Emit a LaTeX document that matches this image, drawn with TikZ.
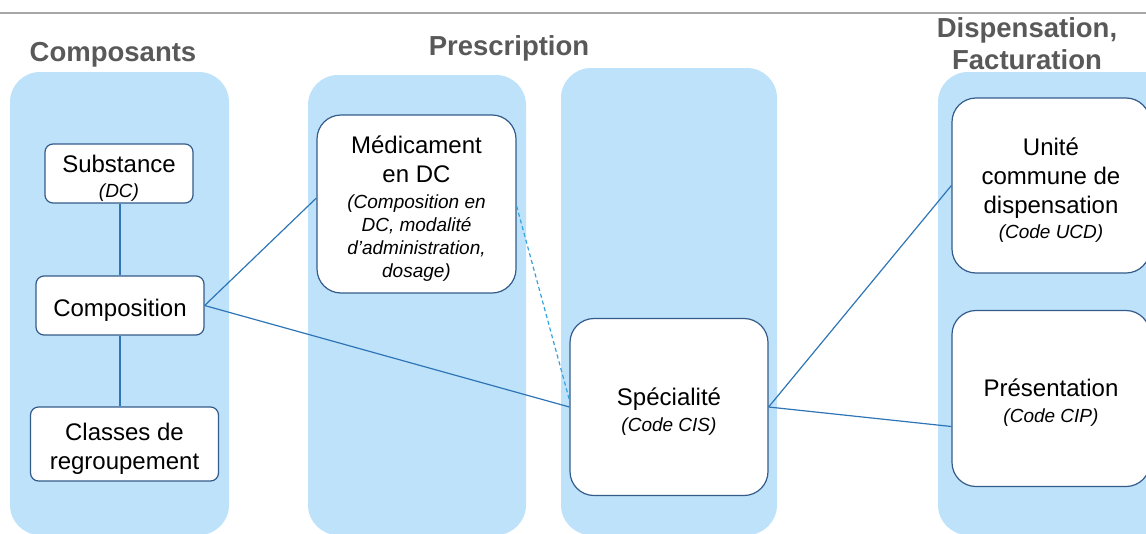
\documentclass[tikz,border=0pt]{standalone}
\usepackage{fontspec}
\setmainfont{Liberation Sans}
\definecolor{panelblue}{RGB}{190,226,250}
\definecolor{boxblue}{RGB}{52,92,138}
\definecolor{linkblue}{RGB}{46,117,182}
\definecolor{dashblue}{RGB}{51,163,220}
\definecolor{headgray}{RGB}{89,89,89}
\definecolor{rulegray}{RGB}{166,166,166}
\newcommand\subtxt[1]{{\fontsize{19}{23}\selectfont\itshape #1}}
\begin{document}
\begin{tikzpicture}[x=1pt,y=-1pt,
  panel/.style={fill=panelblue, rounded corners=30pt},
  boxtext/.style={align=center, inner sep=0pt, yshift=-4.5pt, font=\fontsize{24}{29}\selectfont},
  smallbox/.style={draw=boxblue, line width=1.2pt, fill=white, rounded corners=8pt,
    inner sep=0pt, label={[boxtext]center:{#1}}},
  bigbox/.style={smallbox=#1, rounded corners=24pt},
  heading/.style={font=\fontsize{27.5}{32}\selectfont\bfseries, text=headgray, align=center},
  link/.style={draw=linkblue, line width=1.2pt},
  dashlink/.style={draw=dashblue, line width=1.2pt, dash pattern=on 4pt off 3pt}]

\useasboundingbox (0,0) rectangle (1146,533);
\clip (0,0) rectangle (1146,533);

% top rule
\draw[rulegray, line width=1.4pt] (0,13) -- (1146,13);

% column panels
\fill[panel] (10,72) rectangle (229,535);
\fill[panel] (308,75) rectangle (526,535);
\fill[panel] (561,68) rectangle (777,535);
\fill[panel] (938,72) rectangle (1180,535);

% column headings
\node[heading] (hcomp) at (113,55) {Composants};
\node[heading] (hpres) at (509,48) {Prescription};
\node[heading] (hdisp) at (1027,44) {Dispensation,\\Facturation};

% components
\node[smallbox={Substance\\[-4pt]\subtxt{(DC)}},
  minimum width=148pt, minimum height=59pt] (subst) at (119,173.5) {};
\node[smallbox={Composition},
  minimum width=168pt, minimum height=59pt] (compo) at (120,305.5) {};
\node[smallbox={Classes de\\regroupement},
  minimum width=188pt, minimum height=74pt] (classes) at (124.5,444) {};

% prescription
\node[bigbox={Médicament\\en DC\\[-3pt]\subtxt{(Composition en}\\[-6pt]\subtxt{DC, modalité}\\[-6pt]\subtxt{d’administration,}\\[-6pt]\subtxt{dosage)}},
  minimum width=199pt, minimum height=178pt] (med) at (416.5,204) {};
\node[bigbox={Spécialité\\[-3pt]\subtxt{(Code CIS)}},
  minimum width=198pt, minimum height=177pt] (spec) at (669,407) {};

% dispensation, billing
\node[bigbox={Unité\\commune de\\dispensation\\[-4pt]\subtxt{(Code UCD)}},
  minimum width=198pt, minimum height=175pt] (ucd) at (1051,185.5) {};
\node[bigbox={Présentation\\[-3pt]\subtxt{(Code CIP)}},
  minimum width=198pt, minimum height=176pt] (pres) at (1051,398.5) {};

% connectors
\draw[link] (compo.north |- subst.south) -- (compo.north);
\draw[link] (compo.south) -- (compo.south |- classes.north);
\draw[link] (compo.east) -- ([yshift=6pt]med.west);
\draw[link] (compo.east) -- (spec.west);
\draw[dashlink] ([yshift=-2pt]med.east) -- ([yshift=7pt]spec.west);
\draw[link] (spec.east) -- (ucd.west);
\draw[link] (spec.east) -- ([yshift=-28pt]pres.west);
\end{tikzpicture}
\end{document}
